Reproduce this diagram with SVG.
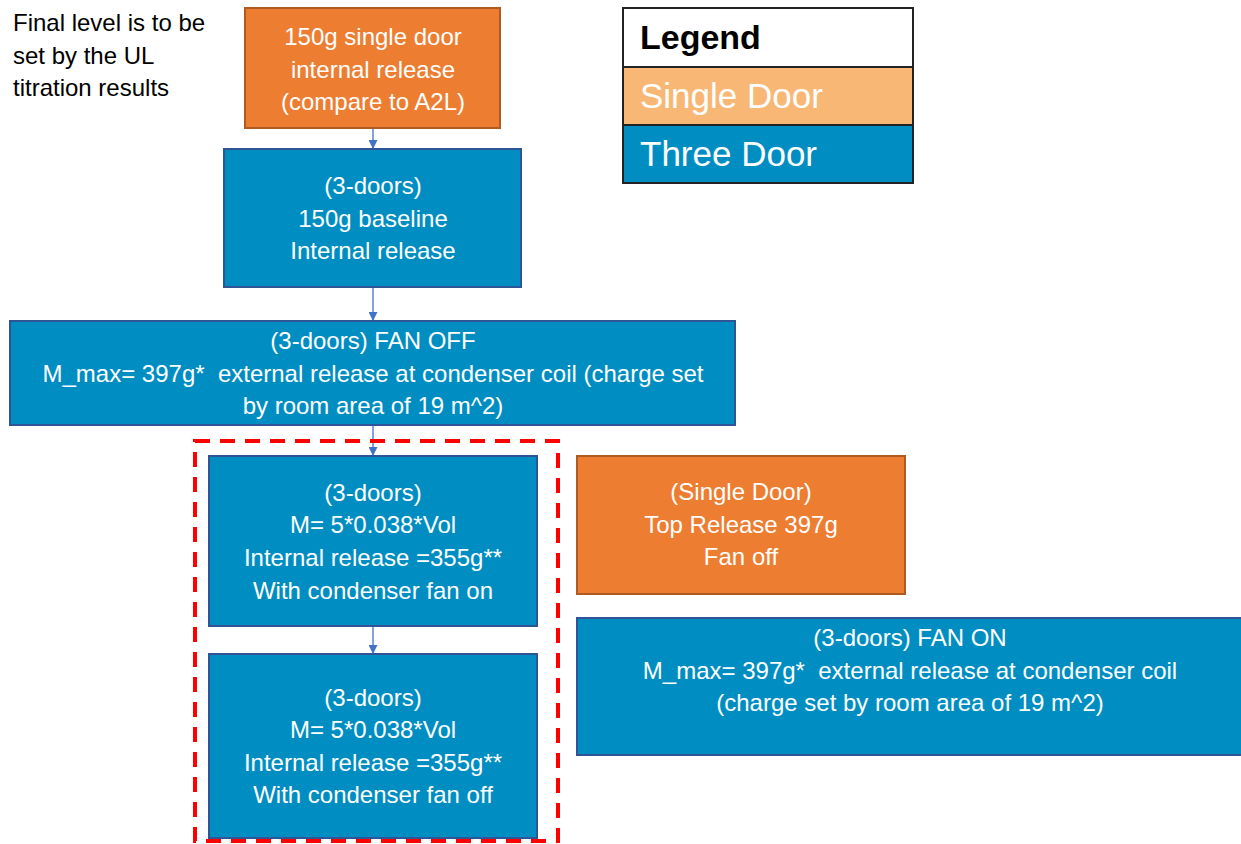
<svg xmlns="http://www.w3.org/2000/svg" width="1241" height="844" viewBox="0 0 1241 844">
<defs>
<style>
.t{font-family:"Liberation Sans",Arial,sans-serif;font-size:24px;fill:#fff;text-anchor:middle}
.note{font-family:"Liberation Sans",Arial,sans-serif;font-size:24px;fill:#000}
.org{fill:#ED7D31;stroke:#AE5A21;stroke-width:2}
.blu{fill:#008EC2;stroke:#2F5597;stroke-width:2}
.lg{font-family:"Liberation Sans",Arial,sans-serif;font-size:35px;fill:#fff}
.conn{stroke:#4472C4;stroke-width:1.3;fill:none;marker-end:url(#ah)}
</style>
<marker id="ah" viewBox="0 0 10 10" refX="10" refY="5" markerWidth="10" markerHeight="9" markerUnits="userSpaceOnUse" orient="auto">
<path d="M0,0 L10,5 L0,10 Z" fill="#4472C4"/>
</marker>
</defs>
<rect width="1241" height="844" fill="#fff"/>

<g id="note">
<text class="note" x="13" y="31">Final level is to be</text>
<text class="note" x="13" y="64">set by the UL</text>
<text class="note" x="13" y="96">titration results</text>
</g>

<g id="legend">
<rect x="623" y="8" width="290" height="59" fill="#fff" stroke="#222" stroke-width="2"/>
<rect x="623" y="67" width="290" height="58" fill="#F9B776" stroke="#222" stroke-width="2"/>
<rect x="623" y="125" width="290" height="58" fill="#008EC2" stroke="#222" stroke-width="2"/>
<text x="640" y="49" font-family="Liberation Sans,Arial,sans-serif" font-size="34" font-weight="bold" fill="#000">Legend</text>
<text class="lg" x="640" y="108">Single Door</text>
<text class="lg" x="640" y="166">Three Door</text>
</g>

<g id="connectors">
<line class="conn" x1="373" y1="128" x2="373" y2="149"/>
<line class="conn" x1="373" y1="287" x2="373" y2="321"/>
<line class="conn" x1="373" y1="425" x2="373" y2="456"/>
<line class="conn" x1="373" y1="626" x2="373" y2="654"/>
</g>

<g id="n1">
<rect class="org" x="245" y="8" width="255" height="120"/>
<text class="t" x="373" y="45">150g single door</text>
<text class="t" x="373" y="78">internal release</text>
<text class="t" x="373" y="110">(compare to A2L)</text>
</g>

<g id="n2">
<rect class="blu" x="224" y="149" width="297" height="138"/>
<text class="t" x="373" y="194">(3-doors)</text>
<text class="t" x="373" y="227">150g baseline</text>
<text class="t" x="373" y="259">Internal release</text>
</g>

<g id="n3">
<rect class="blu" x="10" y="321" width="725" height="104"/>
<text class="t" x="373" y="349">(3-doors) FAN OFF</text>
<text class="t" x="373" y="382" xml:space="preserve">M_max= 397g*  external release at condenser coil (charge set</text>
<text class="t" x="373" y="414">by room area of 19 m^2)</text>
</g>

<g id="group-box">
<rect x="195" y="441" width="363" height="400" fill="none" stroke="#FF0000" stroke-width="4" stroke-dasharray="15 10"/>
</g>

<g id="n4">
<rect class="blu" x="209" y="456" width="328" height="170"/>
<text class="t" x="373" y="501">(3-doors)</text>
<text class="t" x="373" y="533">M= 5*0.038*Vol</text>
<text class="t" x="373" y="566">Internal release =355g**</text>
<text class="t" x="373" y="599">With condenser fan on</text>
</g>

<g id="n5">
<rect class="blu" x="209" y="654" width="328" height="184"/>
<text class="t" x="373" y="706">(3-doors)</text>
<text class="t" x="373" y="738">M= 5*0.038*Vol</text>
<text class="t" x="373" y="771">Internal release =355g**</text>
<text class="t" x="373" y="803">With condenser fan off</text>
</g>

<g id="n6">
<rect class="org" x="577" y="456" width="328" height="138"/>
<text class="t" x="741" y="500">(Single Door)</text>
<text class="t" x="741" y="533">Top Release 397g</text>
<text class="t" x="741" y="565">Fan off</text>
</g>

<g id="n7">
<rect class="blu" x="577" y="618" width="668" height="137"/>
<text class="t" x="910" y="646">(3-doors) FAN ON</text>
<text class="t" x="910" y="679" xml:space="preserve">M_max= 397g*  external release at condenser coil</text>
<text class="t" x="910" y="711">(charge set by room area of 19 m^2)</text>
</g>
</svg>
